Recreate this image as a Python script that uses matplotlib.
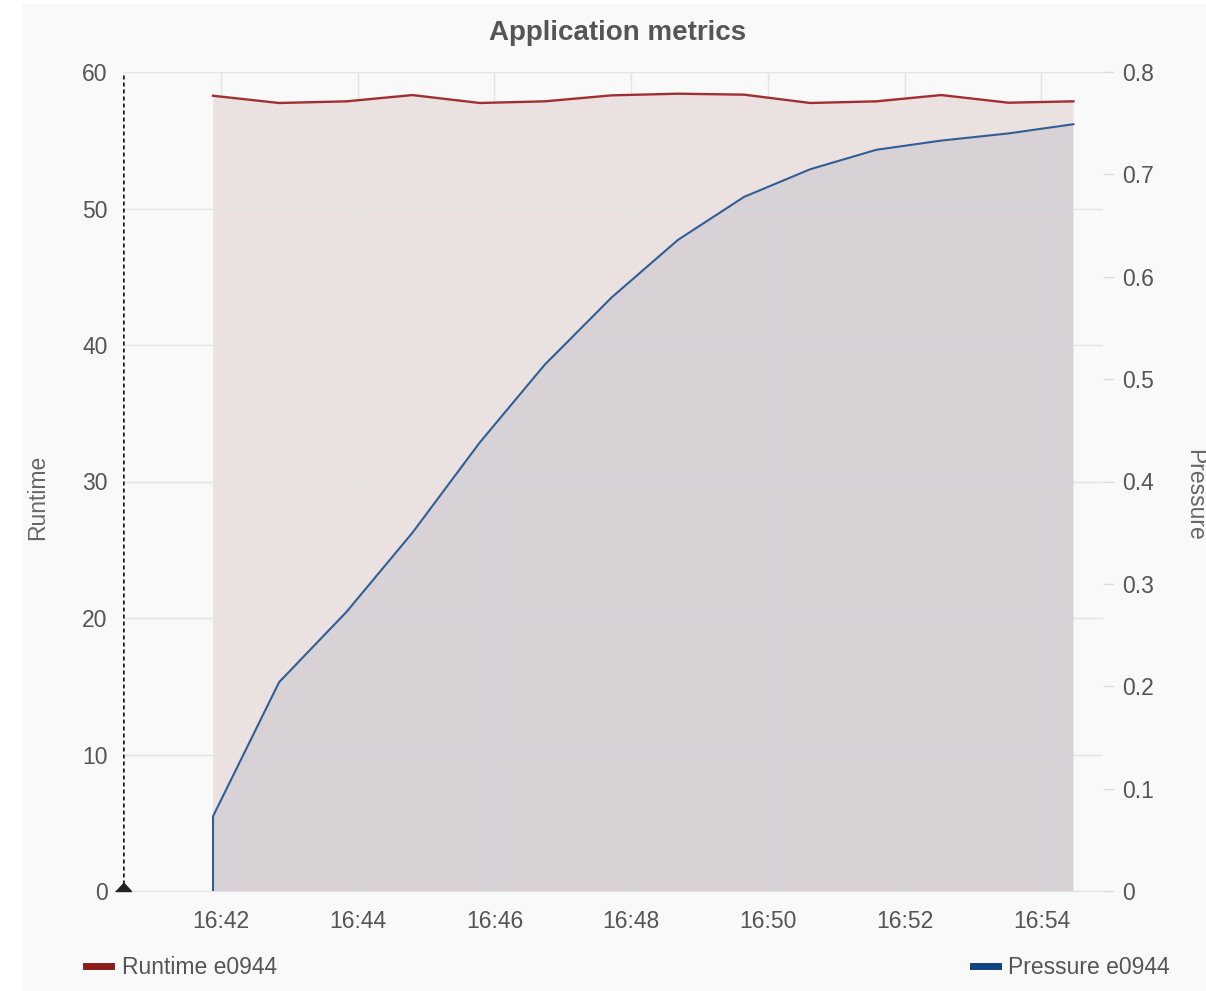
import matplotlib
matplotlib.use("Agg")
import matplotlib.pyplot as plt
import matplotlib.dates as mdates
from matplotlib.lines import Line2D
from matplotlib.patches import Rectangle
import pandas as pd

# sample times (one sample per ~58 s)
times = ["16:41:53", "16:42:51", "16:43:50", "16:44:48", "16:45:47", "16:46:44",
         "16:47:43", "16:48:41", "16:49:39", "16:50:37", "16:51:35", "16:52:32",
         "16:53:31", "16:54:28"]
runtime = [58.26, 57.73, 57.85, 58.31, 57.73, 57.85, 58.29, 58.41, 58.34,
           57.73, 57.85, 58.31, 57.75, 57.85]
# pressure series starts with a zero sample at the first timestamp
pressure_times = ["16:41:53"] + times
pressure = [0.0, 0.073, 0.204, 0.2725, 0.350, 0.438, 0.514, 0.580, 0.636,
            0.678, 0.705, 0.724, 0.733, 0.740, 0.749]

annotation_time = "16:40:34"
view_start = "16:40:34"
view_end = "16:54:54"

runtime_ticks = [0, 10, 20, 30, 40, 50, 60]
pressure_ticks = [0, 0.1, 0.2, 0.3, 0.4, 0.5, 0.6, 0.7, 0.8]
pressure_tick_labels = ["0", "0.1", "0.2", "0.3", "0.4", "0.5", "0.6", "0.7", "0.8"]


def to_dt(t):
    return pd.to_datetime("2024-01-01 " + t)


t_run = [to_dt(t) for t in times]
t_pres = [to_dt(t) for t in pressure_times]

plt.rcParams['font.family'] = ['Liberation Sans', 'DejaVu Sans']
TXT = '#555555'
GRID = '#e4e4e4'
FS = 16.5

fig = plt.figure(figsize=(12.06, 9.91), dpi=100, facecolor='white')
fig.add_artist(Rectangle((22 / 1206, 0), 1, 1 - 4 / 991, transform=fig.transFigure,
                         facecolor='#f9f9f9', edgecolor='none', zorder=-10))

ax = fig.add_axes([123 / 1206, 1 - 891 / 991, (1103 - 123) / 1206, (891 - 72) / 991])
ax.set_facecolor('none')

# runtime (left axis)
ax.fill_between(t_run, runtime, 0, facecolor='#811313', alpha=0.1, linewidth=0)
ax.plot(t_run, runtime, color='#a03030', linewidth=1.7)

ax.set_ylim(0, 60)
ax.set_yticks(runtime_ticks)
ax.set_xlim(to_dt(view_start), to_dt(view_end))
ax.xaxis.set_major_locator(mdates.MinuteLocator(byminute=range(0, 60, 2)))
ax.xaxis.set_major_formatter(mdates.DateFormatter('%H:%M'))
ax.grid(True, color=GRID, linewidth=1)
ax.tick_params(axis='y', length=0, pad=11, labelsize=FS, labelcolor=TXT)
ax.tick_params(axis='x', length=0, pad=14, labelsize=FS, labelcolor=TXT)
for side in ['top', 'right', 'left']:
    ax.spines[side].set_visible(False)
ax.spines['bottom'].set_color('#e2e2e2')

# annotation marker on the left
ax.axvline(to_dt(annotation_time), color='#1a1a1a', linewidth=1.8,
           linestyle=(0, (1.6, 1.2)), zorder=5)
ax.plot([to_dt(annotation_time)], [0], marker=[(-1, 0), (1, 0), (0, 1.1)],
        color='#222222', markersize=12.6, clip_on=False, zorder=6)

# pressure (right axis)
ax2 = ax.twinx()
ax2.fill_between(t_pres, pressure, 0, facecolor='#0f3c78', alpha=0.09, linewidth=0)
ax2.plot(t_pres, pressure, color='#2f5f95', linewidth=1.5)
ax2.set_ylim(0, 0.8)
ax2.set_yticks(pressure_ticks)
ax2.set_yticklabels(pressure_tick_labels)
ax2.tick_params(axis='y', length=8, width=1, color='#dddddd', pad=6,
                labelsize=FS, labelcolor=TXT)
for side in ['top', 'right', 'left', 'bottom']:
    ax2.spines[side].set_visible(False)

# titles and axis labels
fig.text(618 / 1206, 1 - 33 / 991, 'Application metrics', ha='center', va='center',
         fontsize=20, fontweight='bold', color=TXT)
fig.text(38 / 1206, 1 - 497 / 991, 'Runtime', ha='center', va='center',
         rotation=90, fontsize=FS, color='#666666')
fig.text(1195 / 1206, 1 - 495 / 991, 'Pressure', ha='center', va='center',
         rotation=270, fontsize=FS, color='#666666')

# legends
h_run = Line2D([], [], color='#8b1c1c', linewidth=5)
h_pres = Line2D([], [], color='#0f4381', linewidth=5)
leg_kw = dict(frameon=False, fontsize=FS, handlelength=1.1, handletextpad=0.45,
              borderpad=0, borderaxespad=0, labelcolor=TXT)
fig.legend([h_run], ['Runtime e0944'], loc='center left',
           bbox_to_anchor=(86 / 1206, 1 - 968 / 991), **leg_kw)
fig.legend([h_pres], ['Pressure e0944'], loc='center right',
           bbox_to_anchor=(1170 / 1206, 1 - 968 / 991), **leg_kw)

fig.savefig('out.png', dpi=100, facecolor='white')
